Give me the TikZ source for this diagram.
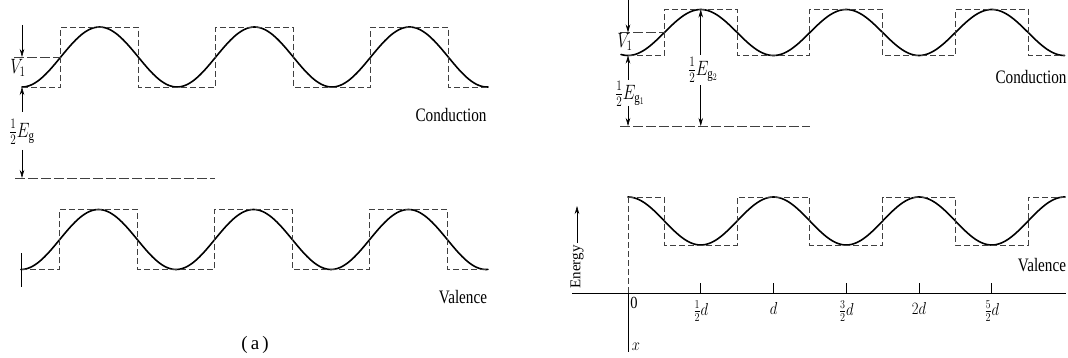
\documentclass[tikz,border=0pt]{standalone}
\usepackage{fontspec}
\setmainfont{Liberation Serif}
\usetikzlibrary{arrows.meta}
\newcommand{\hsq}[2][0.78]{\scalebox{#1}[1]{#2}}
\begin{document}
\begin{tikzpicture}[x=1pt,y=-1pt,
  wave/.style={line width=1.6pt, line join=round, line cap=round},
  sq/.style={line width=0.8pt, black!75, dash pattern=on 6pt off 3pt},
  lvl/.style={line width=0.9pt, black!75, dash pattern=on 10pt off 3pt},
  arr/.style={line width=0.6pt, -{Stealth[length=8pt,width=4.5pt]}},
  dimarr/.style={line width=0.6pt, {Stealth[length=8pt,width=4.5pt]}-{Stealth[length=8pt,width=4.5pt]}},
  thin/.style={line width=0.7pt},
  lab/.style={font=\fontsize{20}{24}\selectfont, inner sep=0pt},
  txt/.style={font=\fontsize{19}{22}\selectfont, inner sep=0pt},
  small/.style={font=\fontsize{17}{20}\selectfont, inner sep=0pt}
]
\useasboundingbox (0,0) rectangle (1068,358);

% ---------------- (a) left ----------------
% conduction
\draw[wave] plot[domain=22:488, samples=200, smooth] (\x, {57+30*cos(2.32258*(\x-22))});
\draw[sq] (22,87) -- (60.75,87) -- (60.75,27) -- (138.25,27) -- (138.25,87) -- (215.75,87) -- (215.75,27) -- (293.25,27) -- (293.25,87) -- (370.75,87) -- (370.75,27) -- (448.25,27) -- (448.25,87) -- (488,87);
\draw[lvl] (14,57) -- (60.75,57);
\coordinate (lV1top) at (22,25);
\coordinate (lV1) at (22,57);
\coordinate (lmin) at (22,87);
\coordinate (lEgup) at (22,112);
\coordinate (lEgdn) at (22,150);
\coordinate (lgap) at (22,178);
\draw[arr] (lV1top) -- (lV1);
\node[lab] (lV1lab) at (18,68) {\hsq{$V_1$}};
\draw[arr] (lEgup) -- (lmin);
\node[lab] (lEg) at (22,132) {\hsq{$\frac{1}{2}E_{\mathrm{g}}$}};
\draw[arr] (lEgdn) -- (lgap);
\draw[lvl] (15,178) -- (215,178);
\node[txt] (lcond) at (451,115) {\hsq[0.8]{Conduction}};

% valence
\draw[wave] plot[domain=21:488, samples=200, smooth] (\x, {239.5+30*cos(2.32258*(\x-21))});
\draw[sq] (21,269.5) -- (59.75,269.5) -- (59.75,209.5) -- (137.25,209.5) -- (137.25,269.5) -- (214.75,269.5) -- (214.75,209.5) -- (292.25,209.5) -- (292.25,269.5) -- (369.75,269.5) -- (369.75,209.5) -- (447.25,209.5) -- (447.25,269.5) -- (488,269.5);
\draw[thin] (21,253) -- (21,287);
\node[txt] (lval) at (463,297) {\hsq[0.8]{Valence}};
\node[txt] (acap) at (255,345) {(\,a\,)};

% ---------------- right ----------------
% conduction
\draw[wave] plot[domain=621:1064.5, samples=200, smooth] (\x, {32.5+23*cos(2.47423*(\x-628))});
\draw[sq] (628,55.5) -- (664.375,55.5) -- (664.375,9.5) -- (737.125,9.5) -- (737.125,55.5) -- (809.875,55.5) -- (809.875,9.5) -- (882.625,9.5) -- (882.625,55.5) -- (955.375,55.5) -- (955.375,9.5) -- (1028.125,9.5) -- (1028.125,55.5) -- (1064.5,55.5);
\draw[lvl] (620,32.5) -- (664.375,32.5);
\coordinate (rV1top) at (628,0);
\coordinate (rV1) at (628,32.5);
\coordinate (rmin) at (628,55.5);
\coordinate (rEgup) at (628,80);
\coordinate (rEgdn) at (628,106);
\coordinate (rgap) at (628,126);
\coordinate (rmax) at (700.75,9.5);
\coordinate (rgap2) at (700.75,126);
\draw[arr] (rV1top) -- (rV1);
\node[lab] (rV1lab) at (625,42) {\hsq{$V_1$}};
\draw[arr] (rEgup) -- (rmin);
\node[lab] (rEg1) at (630,94) {\hsq{$\frac{1}{2}E_{\mathrm{g}_1}$}};
\draw[arr] (rEgdn) -- (rgap);
\draw[lvl] (620,126) -- (810,126);
\draw[dimarr] (rmax) -- (rgap2);
\node[lab, fill=white, inner ysep=3pt] (rEg2) at (703,70) {\hsq{$\frac{1}{2}E_{\mathrm{g}_2}$}};
\node[txt] (rcond) at (1031,77) {\hsq[0.8]{Conduction}};

% valence
\draw[wave] plot[domain=628:1065, samples=200, smooth] (\x, {221-24*cos(2.47423*(\x-628))});
\draw[sq] (628,197) -- (664.375,197) -- (664.375,245) -- (737.125,245) -- (737.125,197) -- (809.875,197) -- (809.875,245) -- (882.625,245) -- (882.625,197) -- (955.375,197) -- (955.375,245) -- (1028.125,245) -- (1028.125,197) -- (1065,197);
\node[txt] (rval) at (1042,265) {\hsq[0.8]{Valence}};

% axes
\coordinate (ax0) at (572,293);
\coordinate (ax1) at (1066,293);
\coordinate (o) at (628,293);
\coordinate (otop) at (628,197);
\coordinate (xend) at (628,352);
\draw[thin] (ax0) -- (ax1);
\draw[sq] (otop) -- (o);
\draw[thin] (o) -- (xend);
\coordinate (ebot) at (577,243);
\coordinate (etop) at (577,206);
\draw[arr] (ebot) -- (etop);
\node[lab, font=\fontsize{15}{17}\selectfont, rotate=90] (energy) at (577,267) {Energy};
\node[small] (zero) at (634,303) {\hsq[0.85]{0}};
\node[small] (xlab) at (636,347) {\hsq[0.85]{$x$}};
\foreach \i/\t/\yy in {1/{$\frac{1}{2}d$}/311, 2/{$d$}/308, 3/{$\frac{3}{2}d$}/311, 4/{$2d$}/308, 5/{$\frac{5}{2}d$}/311}{
  \coordinate (tk\i) at ({628+72.75*\i},293);
  \draw[thin] (tk\i) -- ++(0,-10);
  \node[small] (tl\i) at ({628+72.75*\i},\yy) {\hsq[0.85]{\t}};
}
\end{tikzpicture}
\end{document}
